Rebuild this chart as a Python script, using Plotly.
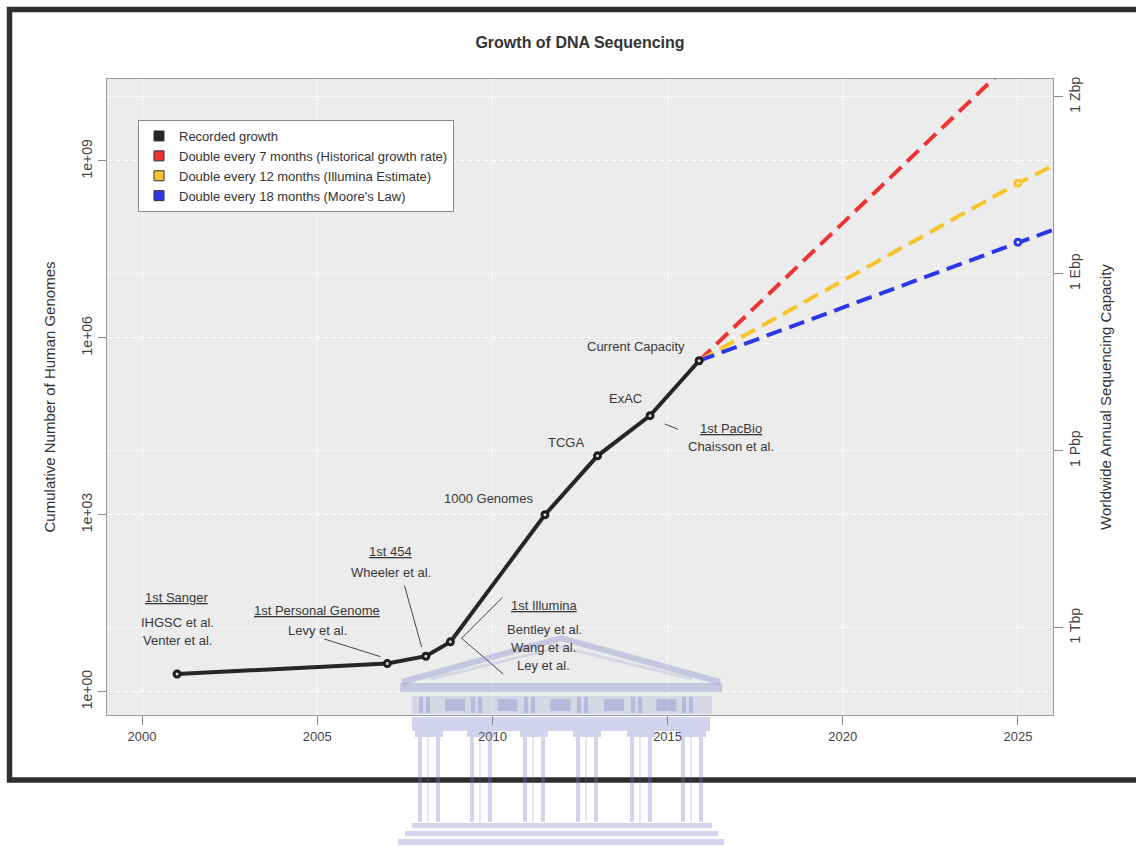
import plotly.graph_objects as go
import math

# ---------------- data ----------------
rec_years = [2001.0, 2007.0, 2008.1, 2008.8, 2011.5, 2013.0, 2014.5, 2015.9]
rec_genomes = [2, 3, 4, 7, 1000, 10000, 48000, 410000]

proj_years = [2015.9, 2025.0, 2026.0]
proj_7mo = [410000, 6.3e10, 2.3e11]
proj_12mo = [410000, 4.2e8, 8.3e8]
proj_18mo = [410000, 4.2e7, 6.8e7]

legend_labels = [
    "Recorded growth",
    "Double every 7 months (Historical growth rate)",
    "Double every 12 months (Illumina Estimate)",
    "Double every 18 months (Moore's Law)",
]
series_colors = ["#262626", "#EE3333", "#F7C52B", "#2C38E8"]

x_ticks = [2000, 2005, 2010, 2015, 2020, 2025]
y_ticks = [1, 1e3, 1e6, 1e9]
y_tick_labels = ["1e+00", "1e+03", "1e+06", "1e+09"]
y2_ticks = [1e12, 1e15, 1e18, 1e21]
y2_tick_labels = ["1 Tbp", "1 Pbp", "1 Ebp", "1 Zbp"]

# milestone labels: (text, year, genomes-scale position)
labels = [
    ("<u>1st Sanger</u>", 2001.0, 10 ** 1.60),
    ("IHGSC et al.", 2001.0, 10 ** 1.17),
    ("Venter et al.", 2001.0, 10 ** 0.86),
    ("<u>1st Personal Genome</u>", 2005.0, 10 ** 1.374),
    ("Levy et al.", 2005.0, 10 ** 1.046),
    ("<u>1st 454</u>", 2007.1, 10 ** 2.374),
    ("Wheeler et al.", 2007.1, 10 ** 2.018),
    ("<u>1st Illumina</u>", 2011.5, 10 ** 1.458),
    ("Bentley et al.", 2011.5, 10 ** 1.063),
    ("Wang et al.", 2011.47, 10 ** 0.753),
    ("Ley et al.", 2011.47, 10 ** 0.441),
    ("1000 Genomes", 2009.9, 10 ** 3.28),
    ("TCGA", 2012.1, 10 ** 4.222),
    ("ExAC", 2013.8, 10 ** 4.975),
    ("Current Capacity", 2014.11, 10 ** 5.85),
    ("<u>1st PacBio</u>", 2016.8, 10 ** 4.467),
    ("Chaisson et al.", 2016.8, 10 ** 4.155),
]
# leader lines: (year0, value0, year1, value1)
leaders = [
    (2005.20, 10 ** 0.894, 2006.81, 10 ** 0.594),
    (2007.49, 10 ** 1.801, 2007.98, 10 ** 0.758),
    (2010.29, 10 ** 1.601, 2009.12, 10 ** 0.906),
    (2009.12, 10 ** 0.906, 2010.31, 10 ** 0.300),
    (2014.92, 10 ** 4.540, 2015.30, 10 ** 4.450),
]

x_range = [1999.0, 2026.0]
y_log_range = [-0.395, 10.39]
y2_offset = 10.915  # decades between genome scale and bp/yr scale

FONT = "Liberation Sans, Arial, sans-serif"
W, H = 1136, 848
ML, MR, MT, MB = 107, 83, 79, 133


def px_x(p):
    return (p - ML) / (W - ML - MR)


def px_y(p):
    return (H - MB - p) / (H - MT - MB)


fig = go.Figure()

proj_sets = [proj_7mo, proj_12mo, proj_18mo]
for vals, col in zip(proj_sets, series_colors[1:]):
    fig.add_trace(go.Scatter(
        x=proj_years, y=vals, mode="lines",
        line=dict(color=col, width=4, dash="16px,8px"),
        showlegend=False, hoverinfo="skip"))
for vals, col in zip(proj_sets[1:], series_colors[2:]):
    fig.add_trace(go.Scatter(
        x=[proj_years[1]], y=[vals[1]], mode="markers",
        marker=dict(symbol="circle", size=6, color="#f2efe2",
                    line=dict(color=col, width=3)),
        showlegend=False, hoverinfo="skip"))

fig.add_trace(go.Scatter(
    x=rec_years, y=rec_genomes, mode="lines+markers",
    line=dict(color=series_colors[0], width=4),
    marker=dict(symbol="circle", size=6, color="#dcdcdc",
                line=dict(color="#1e1e1e", width=3)),
    showlegend=False))

for name, col in zip(legend_labels, series_colors):
    fig.add_trace(go.Scatter(
        x=[None], y=[None], mode="markers", name=name,
        marker=dict(symbol="square", size=10, color=col,
                    line=dict(color="#333333", width=1))))

# invisible trace to hold the right-hand axis
fig.add_trace(go.Scatter(x=[None], y=[None], yaxis="y2", showlegend=False,
                         hoverinfo="skip"))

for text, xv, yv in labels:
    fig.add_annotation(x=xv, y=math.log10(yv), xref="x", yref="y", text=text,
                       showarrow=False, font=dict(family=FONT, size=13, color="#383838"),
                       xanchor="center", yanchor="middle")

for x0, y0, x1, y1 in leaders:
    fig.add_shape(type="line", xref="x", yref="y", x0=x0, y0=y0,
                  x1=x1, y1=y1, line=dict(color="#444444", width=1))

# outer frame of the figure
fig.add_shape(type="rect", xref="paper", yref="paper",
              x0=px_x(9.5), x1=px_x(1150), y0=px_y(780), y1=px_y(9.5),
              line=dict(color="#2e2e2e", width=5.5), fillcolor="rgba(0,0,0,0)",
              layer="above")

# ---- faint building watermark overlaid on the page ----
WM = "rgba(118,124,200,0.33)"
WM_L = "rgba(118,124,200,0.18)"


def wm_rect(x0, y0, x1, y1, col=WM):
    fig.add_shape(type="rect", xref="paper", yref="paper",
                  x0=px_x(x0), x1=px_x(x1), y0=px_y(y1), y1=px_y(y0),
                  line=dict(width=0), fillcolor=col, layer="above")


def wm_path(pts, width, col=WM):
    d = "M " + " L ".join(f"{px_x(a):.5f},{px_y(b):.5f}" for a, b in pts)
    fig.add_shape(type="path", xref="paper", yref="paper", path=d,
                  line=dict(color=col, width=width), layer="above")


# pediment
wm_path([(402, 682), (561, 638), (720, 682)], 6)
wm_path([(430, 679), (561, 647), (692, 679)], 3, WM_L)
# cornice and frieze
wm_rect(400, 683, 722, 692)
wm_rect(412, 696, 712, 714, WM_L)
col_centers = [429, 481, 534, 587, 641, 692]
for c in col_centers:
    wm_rect(c - 10, 697, c - 6, 713)
    wm_rect(c - 3, 697, c + 1, 713)
for a, b in zip(col_centers[:-1], col_centers[1:]):
    m = (a + b) / 2
    wm_rect(m - 10, 699, m + 10, 711)
# architrave
wm_rect(412, 717, 710, 731)
# columns with capitals
for c in col_centers:
    wm_rect(c - 14, 731, c + 14, 737)
    wm_rect(c - 11, 737, c - 7, 822)
    wm_rect(c - 2, 737, c, 822, WM_L)
    wm_rect(c + 7, 737, c + 11, 822)
# steps
wm_rect(412, 823, 712, 828)
wm_rect(405, 831, 718, 836)
wm_rect(398, 839, 724, 845)

fig.update_layout(
    width=W, height=H,
    margin=dict(l=ML, r=MR, t=MT, b=MB),
    paper_bgcolor="white",
    plot_bgcolor="#ECECEC",
    font=dict(family=FONT, size=13, color="#333333"),
    title=dict(text="<b>Growth of DNA Sequencing</b>", x=0.5, xref="paper",
               xanchor="center", y=1 - 42 / H, yanchor="middle",
               font=dict(family=FONT, size=16, color="#333333")),
    showlegend=True,
    legend=dict(x=px_x(138), y=px_y(120), xanchor="left", yanchor="top",
                bgcolor="white", bordercolor="#8a8a8a", borderwidth=1,
                font=dict(family=FONT, size=13, color="#333333"),
                itemclick=False, tracegroupgap=0),
    xaxis=dict(range=x_range, tickvals=x_ticks, ticktext=[str(t) for t in x_ticks],
               showgrid=True, gridcolor="white", griddash="5px,3px", gridwidth=1,
               zeroline=False, showline=True, linecolor="#9a9a9a", linewidth=1,
               mirror=True, ticks="outside", ticklen=9, tickcolor="#8a8a8a",
               tickfont=dict(family=FONT, size=13, color="#444444")),
    yaxis=dict(type="log", range=y_log_range, tickvals=y_ticks, ticktext=y_tick_labels,
               tickangle=-90, showgrid=True, gridcolor="white", griddash="5px,3px",
               zeroline=False, showline=True, linecolor="#9a9a9a", linewidth=1,
               mirror=True, ticks="outside", ticklen=8, tickcolor="#8a8a8a",
               tickfont=dict(family=FONT, size=14, color="#444444"),
               title=dict(text="Cumulative Number of Human Genomes", standoff=20,
                          font=dict(family=FONT, size=15, color="#333333"))),
    yaxis2=dict(type="log", overlaying="y", side="right",
                range=[y_log_range[0] + y2_offset, y_log_range[1] + y2_offset],
                tickvals=y2_ticks, ticktext=y2_tick_labels, tickangle=-90,
                showgrid=True, gridcolor="white", griddash="2px,2px", gridwidth=1,
                zeroline=False, showline=False, ticks="outside", ticklen=9,
                tickcolor="#8a8a8a",
                tickfont=dict(family=FONT, size=14, color="#444444"),
                title=dict(text="Worldwide Annual Sequencing Capacity", standoff=18,
                           font=dict(family=FONT, size=15, color="#333333"))),
)

fig.write_html("out.html")
